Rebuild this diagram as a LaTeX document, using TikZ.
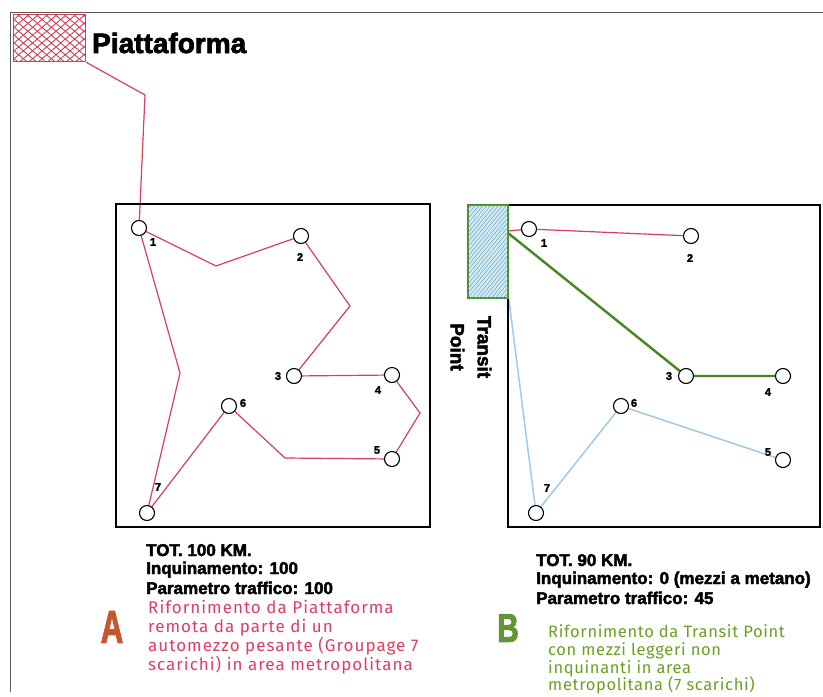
\documentclass[tikz,border=0pt]{standalone}
\usepackage{fontspec}
\setmainfont{Liberation Sans}
\newfontfamily\heavyfont[UprightFont=* Bold, FakeBold=2.5]{Liberation Sans}
\newfontfamily\bodyfontA[LetterSpace=6]{Fira Sans}
\newfontfamily\bodyfontB[LetterSpace=4]{Fira Sans}
\usetikzlibrary{patterns.meta,backgrounds}
\definecolor{linered}{RGB}{214,64,88}
\definecolor{hatchred}{RGB}{205,60,85}
\definecolor{linegreen}{RGB}{70,135,30}
\definecolor{lineblue}{RGB}{160,200,235}
\definecolor{tpblue}{RGB}{210,235,242}
\definecolor{tphatch}{RGB}{110,165,195}
\definecolor{tpgreen}{RGB}{80,140,40}
\definecolor{txtred}{RGB}{222,62,96}
\definecolor{txtgreen}{RGB}{105,160,35}
\definecolor{letA}{RGB}{200,85,45}
\definecolor{letB}{RGB}{95,150,55}
\definecolor{framegray}{RGB}{90,90,90}
\begin{document}
\begin{tikzpicture}[x=1pt,y=-1pt,
  redline/.style={draw=linered, line width=1.2pt},
  greenline/.style={draw=linegreen, line width=2.4pt},
  blueline/.style={draw=lineblue, line width=1.5pt},
  stop/.style={circle, draw=black, line width=1.1pt, fill=white, minimum size=15pt, inner sep=0pt},
  num/.style={font=\heavyfont\fontsize{11}{11}\selectfont, inner sep=0pt},
  area/.style={draw=black, line width=2pt, inner sep=0pt},
  stat/.style={font=\heavyfont\fontsize{17}{18}\selectfont, anchor=base west, inner sep=0pt},
  descA/.style={font=\bodyfontA\fontsize{17}{18}\selectfont, text=txtred, anchor=base west, inner sep=0pt},
  descB/.style={font=\bodyfontB\fontsize{16.5}{18}\selectfont, text=txtgreen, anchor=base west, inner sep=0pt},
  hatchA/.style={postaction={pattern={Lines[angle=40,distance=6pt,line width=.9pt]},pattern color=hatchred},
                 postaction={pattern={Lines[angle=-40,distance=6pt,line width=.9pt]},pattern color=hatchred}},
  hatchB/.style={fill=tpblue, postaction={pattern={Lines[angle=50,distance=3pt,line width=.5pt]},pattern color=tphatch}}
]
\useasboundingbox (0,0) rectangle (823,697);
% frame
\draw[framegray, line width=0.9pt] (10,692) -- (10,12) -- (823,12);

% Piattaforma
\node[draw=linered, line width=1.6pt, minimum width=72pt, minimum height=47pt, inner sep=0pt, hatchA] (piatt) at (49.5,38) {};
\node[font=\heavyfont\fontsize{28}{28}\selectfont, anchor=base west, inner sep=0pt] (piattlbl) at (92,53) {Piattaforma};

% areas
\node[area, minimum width=314pt, minimum height=323pt] (areaA) at (273,365.5) {};
\node[area, minimum width=312pt, minimum height=322pt] (areaB) at (664,366) {};

% Transit point
\node[draw=tpgreen, line width=1.6pt, minimum width=40pt, minimum height=93pt, inner sep=0pt, hatchB] (tp) at (488,251.5) {};
\node[rotate=-90, align=center, font=\heavyfont\fontsize{19}{27}\selectfont, inner sep=0pt] (tplbl) at (471,347) {Transit\\Point};

% stops A
\node[stop] (l1) at (139,228) {};
\node[stop] (l2) at (301,236) {};
\node[stop] (l3) at (294,376) {};
\node[stop] (l4) at (392,375) {};
\node[stop] (l5) at (392,459) {};
\node[stop] (l6) at (229,406) {};
\node[stop] (l7) at (147,513) {};
\node[num] (nl1) at (153,242) {1};
\node[num] (nl2) at (300,257) {2};
\node[num] (nl3) at (278,376) {3};
\node[num] (nl4) at (378,390) {4};
\node[num] (nl5) at (377,450) {5};
\node[num] (nl6) at (243,403) {6};
\node[num] (nl7) at (158,487) {7};

% stops B
\node[stop] (r1) at (529,229) {};
\node[stop] (r2) at (691,236) {};
\node[stop] (r3) at (686,376) {};
\node[stop] (r4) at (783,376) {};
\node[stop] (r5) at (783,460) {};
\node[stop] (r6) at (621,406) {};
\node[stop] (r7) at (536,513) {};
\node[num] (nr1) at (544,243) {1};
\node[num] (nr2) at (690,258) {2};
\node[num] (nr3) at (669,376) {3};
\node[num] (nr4) at (768,392) {4};
\node[num] (nr5) at (768,452) {5};
\node[num] (nr6) at (634,403) {6};
\node[num] (nr7) at (547,488) {7};

\begin{scope}[on background layer]
  \coordinate (p0) at (145,95);
  \coordinate (c12) at (216,266);
  \coordinate (c23) at (350,306);
  \coordinate (c45) at (420,413);
  \coordinate (c56) at (285,458);
  \coordinate (c71) at (180,373);
  \draw[redline] (piatt.south east) -- (p0) -- (l1);
  \draw[redline] (l1) -- (c12) -- (l2) -- (c23) -- (l3) -- (l4) -- (c45) -- (l5) -- (c56) -- (l6) -- (l7) -- (c71) -- (l1);
  \coordinate (tpe) at (508,231);
  \coordinate (tpe2) at (508,233);
  \draw[redline] (tpe) -- (r1) -- (r2);
  \draw[greenline] (tpe2) -- (r3) -- (r4);
  \draw[blueline] (tp.south east) -- (r7) -- (r6) -- (r5);
\end{scope}

% stats A
\node[stat] (sa1) at (146,556) {TOT. 100 KM.};
\node[stat] (sa2) at (146,574) {Inquinamento: 100};
\node[stat] (sa3) at (146,594) {Parametro traffico: 100};
% stats B
\node[stat] (sb1) at (536,566) {TOT. 90 KM.};
\node[stat] (sb2) at (536,584) {Inquinamento: 0 (mezzi a metano)};
\node[stat] (sb3) at (536,604) {Parametro traffico: 45};

% letters
\node[font=\heavyfont\fontsize{46}{46}\selectfont, text=letA, inner sep=0pt] (letterA) at (112,627) {\scalebox{0.68}[1]{A}};
\node[font=\heavyfont\fontsize{40}{40}\selectfont, text=letB, inner sep=0pt] (letterB) at (508,628) {\scalebox{0.75}[1]{B}};

% descriptions
\node[descA] (da1) at (148,613) {Rifornimento da Piattaforma};
\node[descA] (da2) at (148,632) {remota da parte di un};
\node[descA] (da3) at (148,651) {automezzo pesante (Groupage 7};
\node[descA] (da4) at (148,670) {scarichi) in area metropolitana};
\node[descB] (db1) at (548,637) {Rifornimento da Transit Point};
\node[descB] (db2) at (548,655) {con mezzi leggeri non};
\node[descB] (db3) at (548,673) {inquinanti in area};
\node[descB] (db4) at (548,690) {metropolitana (7 scarichi)};
\end{tikzpicture}
\end{document}
